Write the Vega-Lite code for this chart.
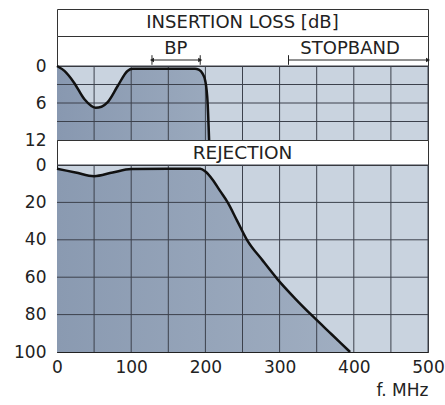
{
  "$schema": "https://vega.github.io/schema/vega-lite/v6.json",
  "padding": {"left": 13, "top": 8, "right": 0, "bottom": 0},
  "bounds": "flush",
  "spacing": 0,
  "config": {
    "font": "DejaVu Sans",
    "concat": {"spacing": 0},
    "axis": {
      "labelFont": "DejaVu Sans",
      "labelFontSize": 17,
      "labelColor": "#222",
      "ticks": false,
      "grid": false,
      "domainColor": "#222",
      "labelPadding": 11,
      "labelOverlap": false,
      "labelFlush": false
    }
  },
  "datasets": {
    "loss": [
      {"f": 0, "loss": 0},
      {"f": 10, "loss": 0.8},
      {"f": 23, "loss": 2.7},
      {"f": 37, "loss": 5.4},
      {"f": 52, "loss": 6.75},
      {"f": 60, "loss": 6.6},
      {"f": 68, "loss": 5.9},
      {"f": 82, "loss": 3.2},
      {"f": 95, "loss": 0.8},
      {"f": 102, "loss": 0.45},
      {"f": 120, "loss": 0.45},
      {"f": 150, "loss": 0.45},
      {"f": 186, "loss": 0.45},
      {"f": 191, "loss": 0.6},
      {"f": 196, "loss": 1.2},
      {"f": 200, "loss": 2.5},
      {"f": 203, "loss": 6},
      {"f": 205, "loss": 12}
    ],
    "rej": [
      {"f": 0, "rej": 2},
      {"f": 25, "rej": 4},
      {"f": 50, "rej": 6},
      {"f": 75, "rej": 4},
      {"f": 100, "rej": 2.2},
      {"f": 150, "rej": 2},
      {"f": 193, "rej": 2},
      {"f": 200, "rej": 3.5},
      {"f": 210, "rej": 8},
      {"f": 220, "rej": 14},
      {"f": 230, "rej": 20},
      {"f": 243, "rej": 30},
      {"f": 256, "rej": 40},
      {"f": 277, "rej": 51},
      {"f": 297, "rej": 61},
      {"f": 320, "rej": 71},
      {"f": 345, "rej": 81},
      {"f": 370, "rej": 90.5},
      {"f": 395, "rej": 100}
    ],
    "xgrid": [
      {"f": 50}, {"f": 100}, {"f": 150}, {"f": 200}, {"f": 250},
      {"f": 300}, {"f": 350}, {"f": 400}, {"f": 450}, {"f": 500}
    ],
    "lossgrid": [{"loss": 0}, {"loss": 3}, {"loss": 6}, {"loss": 9}],
    "rejgrid": [{"rej": 0}, {"rej": 20}, {"rej": 40}, {"rej": 60}, {"rej": 80}],
    "bands": [
      {"band": "BP", "from": 128, "to": 193, "label_at": 160},
      {"band": "STOPBAND", "from": 312, "to": 500, "label_at": 395}
    ]
  },
  "vconcat": [
    {
      "width": 371,
      "height": 27,
      "view": {"fill": "white", "stroke": "#333"},
      "data": {"values": [{"title": "INSERTION LOSS [dB]"}]},
      "mark": {"type": "text", "fontSize": 18, "color": "#222", "baseline": "middle"},
      "encoding": {"text": {"field": "title"}}
    },
    {
      "width": 371,
      "height": 30,
      "view": {"fill": "white", "stroke": "#333"},
      "data": {"name": "bands"},
      "layer": [
        {
          "mark": {"type": "rule", "color": "#222", "strokeWidth": 1},
          "encoding": {
            "x": {"field": "from", "type": "quantitative", "scale": {"domain": [0, 500], "nice": false}, "axis": null},
            "x2": {"field": "to"},
            "y": {"datum": 0.2, "type": "quantitative", "scale": {"domain": [0, 1], "nice": false}, "axis": null}
          }
        },
        {
          "mark": {"type": "rule", "color": "#222", "strokeWidth": 1},
          "encoding": {
            "x": {"field": "from", "type": "quantitative", "axis": null},
            "y": {"datum": 0.04, "type": "quantitative", "axis": null},
            "y2": {"datum": 0.36}
          }
        },
        {
          "transform": [{"filter": "datum.band == 'BP'"}],
          "mark": {"type": "rule", "color": "#222", "strokeWidth": 1},
          "encoding": {
            "x": {"field": "to", "type": "quantitative", "axis": null},
            "y": {"datum": 0.04, "type": "quantitative", "axis": null},
            "y2": {"datum": 0.36}
          }
        },
        {
          "transform": [{"filter": "datum.band == 'BP'"}],
          "mark": {"type": "point", "shape": "triangle-left", "filled": true, "color": "#222", "size": 22, "dx": 3, "opacity": 1},
          "encoding": {
            "x": {"field": "from", "type": "quantitative", "axis": null},
            "y": {"datum": 0.2, "type": "quantitative", "axis": null}
          }
        },
        {
          "mark": {"type": "point", "shape": "triangle-right", "filled": true, "color": "#222", "size": 22, "dx": -3, "opacity": 1},
          "encoding": {
            "x": {"field": "to", "type": "quantitative", "axis": null},
            "y": {"datum": 0.2, "type": "quantitative", "axis": null}
          }
        },
        {
          "mark": {"type": "text", "fontSize": 18, "color": "#222", "baseline": "middle"},
          "encoding": {
            "x": {"field": "label_at", "type": "quantitative", "axis": null},
            "y": {"datum": 0.56, "type": "quantitative", "axis": null},
            "text": {"field": "band"}
          }
        }
      ]
    },
    {
      "width": 371,
      "height": 74,
      "view": {"fill": "#c9d3df", "stroke": "#333"},
      "layer": [
        {
          "data": {"name": "loss"},
          "mark": {
            "type": "area",
            "interpolate": "monotone",
            "color": {"gradient": "linear", "x1": 0, "y1": 0, "x2": 1, "y2": 0, "stops": [{"offset": 0, "color": "#8898b0"}, {"offset": 1, "color": "#9aa9bd"}]}
          },
          "encoding": {
            "x": {
              "field": "f",
              "type": "quantitative",
              "scale": {"domain": [0, 500], "nice": false},
              "axis": {"values": [0, 100, 200, 300, 400, 500], "labels": false, "domain": false, "title": null}
            },
            "y": {
              "field": "loss",
              "type": "quantitative",
              "scale": {"domain": [0, 12], "reverse": true, "nice": false},
              "axis": {"values": [0, 6, 12], "title": null, "domain": true}
            },
            "y2": {"datum": 12}
          }
        },
        {
          "data": {"name": "xgrid"},
          "mark": {"type": "rule", "color": "#3c414c", "strokeWidth": 1},
          "encoding": {
            "x": {"field": "f", "type": "quantitative", "axis": {"values": [0, 100, 200, 300, 400, 500], "labels": false, "domain": false, "title": null}}
          }
        },
        {
          "data": {"name": "lossgrid"},
          "mark": {"type": "rule", "color": "#3c414c", "strokeWidth": 1},
          "encoding": {
            "y": {"field": "loss", "type": "quantitative", "axis": {"values": [0, 6, 12], "title": null, "domain": true}}
          }
        },
        {
          "data": {"name": "loss"},
          "mark": {"type": "line", "interpolate": "monotone", "color": "#111", "strokeWidth": 2.5},
          "encoding": {
            "x": {"field": "f", "type": "quantitative", "axis": {"values": [0, 100, 200, 300, 400, 500], "labels": false, "domain": false, "title": null}},
            "y": {"field": "loss", "type": "quantitative", "axis": {"values": [0, 6, 12], "title": null, "domain": true}}
          }
        }
      ]
    },
    {
      "width": 371,
      "height": 25,
      "view": {"fill": "white", "stroke": "#333"},
      "data": {"values": [{"title": "REJECTION"}]},
      "mark": {"type": "text", "fontSize": 18.5, "color": "#222", "baseline": "middle"},
      "encoding": {"text": {"field": "title"}}
    },
    {
      "width": 371,
      "height": 187,
      "view": {"fill": "#c9d3df", "stroke": "#333"},
      "layer": [
        {
          "data": {"name": "rej"},
          "mark": {
            "type": "area",
            "interpolate": "monotone",
            "color": {"gradient": "linear", "x1": 0, "y1": 0, "x2": 1, "y2": 0, "stops": [{"offset": 0, "color": "#8a9ab1"}, {"offset": 1, "color": "#a0aec1"}]}
          },
          "encoding": {
            "x": {
              "field": "f",
              "type": "quantitative",
              "scale": {"domain": [0, 500], "nice": false},
              "axis": {
                "values": [0, 100, 200, 300, 400, 500],
                "labelPadding": 7,
                "domain": true,
                "title": "f. MHz",
                "titleAnchor": "end",
                "titleFont": "DejaVu Sans",
                "titleFontSize": 17,
                "titleFontWeight": "normal",
                "titleColor": "#222",
                "titlePadding": 7
              }
            },
            "y": {
              "field": "rej",
              "type": "quantitative",
              "scale": {"domain": [0, 100], "reverse": true, "nice": false},
              "axis": {"values": [0, 20, 40, 60, 80, 100], "title": null, "domain": true}
            },
            "y2": {"datum": 100}
          }
        },
        {
          "data": {"name": "xgrid"},
          "mark": {"type": "rule", "color": "#3c414c", "strokeWidth": 1},
          "encoding": {
            "x": {
              "field": "f",
              "type": "quantitative",
              "axis": {
                "values": [0, 100, 200, 300, 400, 500],
                "labelPadding": 7,
                "domain": true,
                "title": "f. MHz",
                "titleAnchor": "end",
                "titleFont": "DejaVu Sans",
                "titleFontSize": 17,
                "titleFontWeight": "normal",
                "titleColor": "#222",
                "titlePadding": 7
              }
            }
          }
        },
        {
          "data": {"name": "rejgrid"},
          "mark": {"type": "rule", "color": "#3c414c", "strokeWidth": 1},
          "encoding": {
            "y": {"field": "rej", "type": "quantitative", "axis": {"values": [0, 20, 40, 60, 80, 100], "title": null, "domain": true}}
          }
        },
        {
          "data": {"name": "rej"},
          "mark": {"type": "line", "interpolate": "monotone", "color": "#111", "strokeWidth": 2.5},
          "encoding": {
            "x": {
              "field": "f",
              "type": "quantitative",
              "axis": {
                "values": [0, 100, 200, 300, 400, 500],
                "labelPadding": 7,
                "domain": true,
                "title": "f. MHz",
                "titleAnchor": "end",
                "titleFont": "DejaVu Sans",
                "titleFontSize": 17,
                "titleFontWeight": "normal",
                "titleColor": "#222",
                "titlePadding": 7
              }
            },
            "y": {"field": "rej", "type": "quantitative", "axis": {"values": [0, 20, 40, 60, 80, 100], "title": null, "domain": true}}
          }
        }
      ]
    }
  ]
}
